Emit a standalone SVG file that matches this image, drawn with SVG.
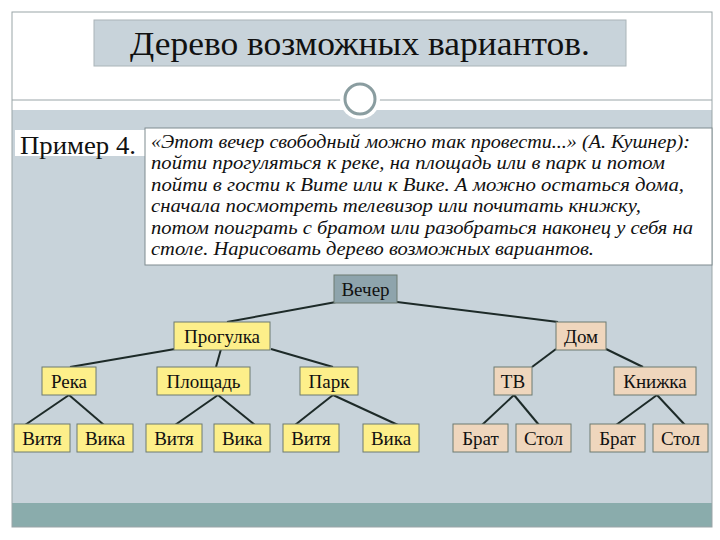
<svg xmlns="http://www.w3.org/2000/svg" width="720" height="540" viewBox="0 0 720 540">
<style>
text{font-family:"Liberation Serif","DejaVu Serif",serif;fill:#111}
.n rect{stroke:#6d7b70;stroke-width:1}
.y rect{fill:#fdef8a}
.p rect{fill:#efd6bd}
.n text{font-size:19px;text-anchor:middle}
#edges line{stroke:#1d2a28;stroke-width:2}
.it{font-style:italic;font-size:18px}
</style>
<rect width="720" height="540" fill="#fff"/>
<rect x="12" y="110" width="700" height="417" fill="#c8d3da"/>
<rect x="12" y="503" width="700" height="24" fill="#8aacac"/>
<rect x="12" y="12" width="700" height="515" fill="none" stroke="#9aa5a8" stroke-width="1"/>
<line x1="12" y1="100" x2="712" y2="100" stroke="#9aa5a8"/>
<rect x="94" y="20" width="532" height="46" fill="#c8d3da" stroke="#aab4b8"/>
<text x="130" y="55" font-size="33" textLength="460" lengthAdjust="spacingAndGlyphs">Дерево возможных вариантов.</text>
<circle cx="360" cy="99" r="20" fill="#fff"/>
<circle cx="360" cy="99" r="15" fill="#fff" stroke="#8a9da0" stroke-width="3"/>
<rect x="15" y="130" width="130" height="26" fill="#fff"/>
<text x="20" y="154" font-size="26" textLength="116" lengthAdjust="spacingAndGlyphs">Пример 4.</text>
<rect x="145" y="128" width="567" height="137" fill="#fff" stroke="#7f8b8f"/>
<text x="151" y="148" class="it" textLength="539" lengthAdjust="spacingAndGlyphs">«Этот вечер свободный можно так провести...» (А. Кушнер):</text>
<text x="151" y="169" class="it" textLength="514" lengthAdjust="spacingAndGlyphs">пойти прогуляться к реке, на площадь или в парк и потом</text>
<text x="151" y="191" class="it" textLength="533" lengthAdjust="spacingAndGlyphs">пойти в гости к  Вите или  к Вике. А можно остаться дома,</text>
<text x="151" y="212" class="it" textLength="490" lengthAdjust="spacingAndGlyphs">сначала посмотреть телевизор или почитать книжку,</text>
<text x="151" y="234" class="it" textLength="542" lengthAdjust="spacingAndGlyphs">потом поиграть с братом или разобраться наконец у себя на</text>
<text x="151" y="255" class="it" textLength="443" lengthAdjust="spacingAndGlyphs">столе. Нарисовать дерево возможных вариантов.</text>
<g id="edges">
<line x1="336" y1="302" x2="227" y2="322"/>
<line x1="397" y1="302" x2="558" y2="322"/>
<line x1="175" y1="349" x2="70" y2="367"/>
<line x1="221" y1="349" x2="216" y2="367"/>
<line x1="271" y1="349" x2="333" y2="367"/>
<line x1="556" y1="349" x2="532" y2="367"/>
<line x1="606" y1="349" x2="643" y2="367"/>
<line x1="69" y1="395" x2="25" y2="425"/>
<line x1="69" y1="395" x2="104" y2="425"/>
<line x1="218" y1="395" x2="175" y2="425"/>
<line x1="218" y1="395" x2="255" y2="425"/>
<line x1="333" y1="395" x2="295" y2="425"/>
<line x1="333" y1="395" x2="398" y2="425"/>
<line x1="514" y1="395" x2="482" y2="425"/>
<line x1="514" y1="395" x2="539" y2="425"/>
<line x1="657" y1="395" x2="616" y2="425"/>
<line x1="657" y1="395" x2="685" y2="425"/>
</g>
<g id="vecher" class="n"><rect x="334" y="275" width="63" height="28" fill="#8ea4ac"/><text x="365.5" y="296">Вечер</text></g>
<g id="progulka" class="n y"><rect x="174" y="322" width="96" height="28"/><text x="222" y="343">Прогулка</text></g>
<g id="dom" class="n p"><rect x="556" y="322" width="50" height="28"/><text x="581" y="343">Дом</text></g>
<g id="reka" class="n y"><rect x="42" y="367" width="54" height="28"/><text x="69" y="388">Река</text></g>
<g id="ploshchad" class="n y"><rect x="157" y="367" width="93" height="28"/><text x="203.5" y="388">Площадь</text></g>
<g id="park" class="n y"><rect x="300" y="367" width="58" height="28"/><text x="329" y="388">Парк</text></g>
<g id="tv" class="n p"><rect x="494" y="367" width="38" height="28"/><text x="513" y="388">ТВ</text></g>
<g id="knizhka" class="n p"><rect x="614" y="367" width="82" height="28"/><text x="655" y="388">Книжка</text></g>
<g id="vitya1" class="n y"><rect x="14" y="424" width="56" height="28"/><text x="42" y="445">Витя</text></g>
<g id="vika1" class="n y"><rect x="77" y="424" width="56" height="28"/><text x="105" y="445">Вика</text></g>
<g id="vitya2" class="n y"><rect x="146" y="424" width="56" height="28"/><text x="174" y="445">Витя</text></g>
<g id="vika2" class="n y"><rect x="214" y="424" width="56" height="28"/><text x="242" y="445">Вика</text></g>
<g id="vitya3" class="n y"><rect x="283" y="424" width="56" height="28"/><text x="311" y="445">Витя</text></g>
<g id="vika3" class="n y"><rect x="363" y="424" width="56" height="28"/><text x="391" y="445">Вика</text></g>
<g id="brat1" class="n p"><rect x="453" y="424" width="55" height="28"/><text x="480.5" y="445">Брат</text></g>
<g id="stol1" class="n p"><rect x="516" y="424" width="55" height="28"/><text x="543.5" y="445">Стол</text></g>
<g id="brat2" class="n p"><rect x="590" y="424" width="55" height="28"/><text x="617.5" y="445">Брат</text></g>
<g id="stol2" class="n p"><rect x="653" y="424" width="55" height="28"/><text x="680.5" y="445">Стол</text></g>
</svg>
